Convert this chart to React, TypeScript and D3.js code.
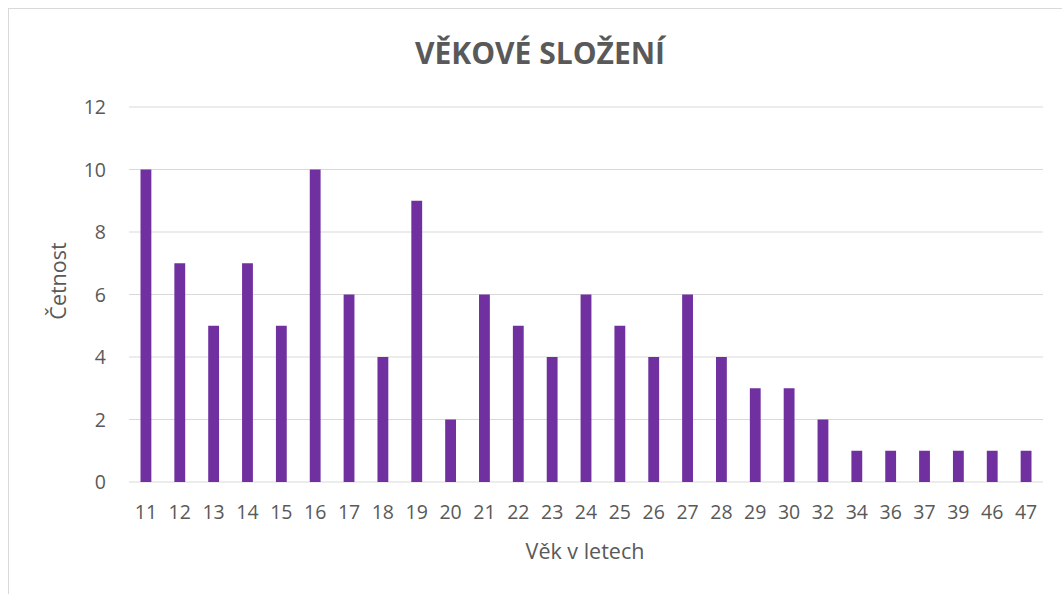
import React from 'react';
import * as d3 from 'd3';

const ages = ['11', '12', '13', '14', '15', '16', '17', '18', '19', '20', '21', '22', '23', '24', '25', '26', '27', '28', '29', '30', '32', '34', '36', '37', '39', '46', '47'];
const counts = [10, 7, 5, 7, 5, 10, 6, 4, 9, 2, 6, 5, 4, 6, 5, 4, 6, 4, 3, 3, 2, 1, 1, 1, 1, 1, 1];
const yTicks = [0, 2, 4, 6, 8, 10, 12];

const title = 'VĚKOVÉ SLOŽENÍ';
const xTitle = 'Věk v letech';
const yTitle = 'Četnost';

const width = 1062;
const height = 594;
const plot = { left: 129, right: 1043, top: 107, bottom: 482 };
const font = "'Open Sans', 'DejaVu Sans', sans-serif";
const textColor = '#595959';

export default function App() {
  const x = d3.scaleBand<string>()
    .domain(ages)
    .range([plot.left, plot.right])
    .paddingInner(0.68)
    .paddingOuter(0.34);

  const y = d3.scaleLinear()
    .domain([0, 12])
    .range([plot.bottom, plot.top]);

  return (
    <svg width={width} height={height} style={{ position: 'absolute', left: 0, top: 0 }}>
      <rect x={0} y={0} width={width} height={height} fill="#fff" />
      <rect x={8.5} y={8.5} width={1100} height={700} fill="#fff" stroke="#d9d9d9" strokeWidth={1} />

      <text x={540} y={64} textAnchor="middle" fontFamily={font} fontWeight="bold" fontSize={30} fill={textColor}>
        {title}
      </text>

      {yTicks.map(t => (
        <g key={t}>
          <line x1={plot.left} x2={plot.right} y1={y(t)} y2={y(t)} stroke="#d9d9d9" strokeWidth={1.2} />
          <text x={106} y={y(t)} dy="0.36em" textAnchor="end" fontFamily={font} fontSize={19.5} fill={textColor}>
            {t}
          </text>
        </g>
      ))}

      {ages.map((a, i) => (
        <rect
          key={a}
          x={x(a)}
          y={y(counts[i])}
          width={x.bandwidth()}
          height={y(0) - y(counts[i])}
          fill="#7030a0"
        />
      ))}

      {ages.map(a => (
        <text key={a} x={(x(a) ?? 0) + x.bandwidth() / 2} y={519} textAnchor="middle" fontFamily={font} fontSize={19.5} fill={textColor}>
          {a}
        </text>
      ))}

      <text x={585} y={559} textAnchor="middle" fontFamily={font} fontSize={21.5} fill={textColor}>
        {xTitle}
      </text>
      <text transform="translate(66,281) rotate(-90)" textAnchor="middle" fontFamily={font} fontSize={21.5} fill={textColor}>
        {yTitle}
      </text>
    </svg>
  );
}
